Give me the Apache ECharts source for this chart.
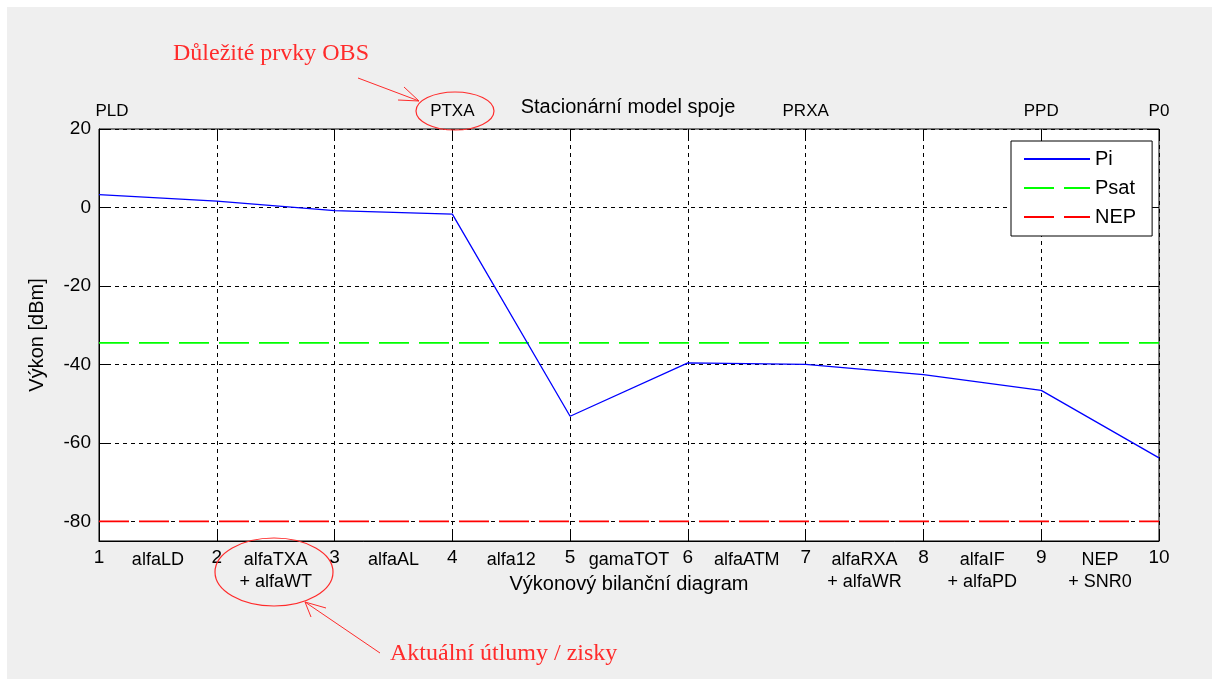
<!DOCTYPE html>
<html>
<head>
    <meta charset="utf-8">
    <title>Stacionární model spoje</title>
    <script src="https://cdn.jsdelivr.net/npm/echarts@6/dist/echarts.min.js"></script>
    <style>
        body { margin: 0; background: #ffffff; }
        #main { position: absolute; left: 7px; top: 7px; width: 1205px; height: 672px; }
    </style>
</head>
<body>
<div id="main"></div>
<script type="text/javascript">
    // data
    var xs = [1, 2, 3, 4, 5, 6, 7, 8, 9, 10];
    var piValues = [3.3, 1.6, -0.8, -1.7, -53.2, -39.6, -40.0, -42.6, -46.6, -63.8];
    var psatLevel = -34.5;
    var nepLevel = -80;
    var yTicks = [-80, -60, -40, -20, 0, 20];
    var stagePos = [1.5, 2.5, 3.5, 4.5, 5.5, 6.5, 7.5, 8.5, 9.5];
    var stageNames = ['alfaLD', 'alfaTXA\n+ alfaWT', 'alfaAL', 'alfa12', 'gamaTOT',
        'alfaATM', 'alfaRXA\n+ alfaWR', 'alfaIF\n+ alfaPD', 'NEP\n+ SNR0'];
    var pointPos = [1, 4, 7, 9, 10];
    var pointNames = ['PLD', 'PTXA', 'PRXA', 'PPD', 'P0'];

    var off = 7; // page offset of the chart div
    var font = 'Liberation Sans, Arial, sans-serif';
    var serif = 'Liberation Serif, Times New Roman, serif';
    var red = '#ff2b2b';
    var dash = [30, 10];

    var myChart = echarts.init(document.getElementById('main'));

    var tickIn = { show: true, inside: true, length: 9, lineStyle: { color: '#000' } };
    var dotted = { show: true, lineStyle: { color: '#000', type: [4, 4], width: 1 } };

    var option = {
        backgroundColor: '#efefef',
        animation: false,
        textStyle: { fontFamily: font },
        title: {
            text: 'Stacionární model spoje',
            left: 628 - off,
            top: 97 - off,
            textAlign: 'center',
            padding: 0,
            textStyle: { fontSize: 20, fontWeight: 'normal', color: '#000', fontFamily: font }
        },
        grid: {
            left: 99 - off, top: 129 - off, width: 1060, height: 412,
            show: true, backgroundColor: '#fff', borderColor: '#000', borderWidth: 1
        },
        legend: {
            data: [
                { name: 'Pi', itemStyle: { opacity: 0 } },
                { name: 'Psat', itemStyle: { opacity: 0 }, lineStyle: { type: dash } },
                { name: 'NEP', itemStyle: { opacity: 0 }, lineStyle: { type: dash } }
            ],
            orient: 'vertical',
            left: 1011 - off, top: 141 - off,
            itemWidth: 66, itemHeight: 14, itemGap: 9,
            padding: [8, 16, 9, 12],
            backgroundColor: '#fff', borderColor: '#000', borderWidth: 1,
            textStyle: { fontSize: 20, color: '#000', fontFamily: font }
        },
        xAxis: [{
            type: 'value', position: 'bottom', min: 1, max: 10, interval: 1,
            name: 'Výkonový bilanční diagram', nameLocation: 'middle', nameGap: 33,
            nameTextStyle: { fontSize: 20, color: '#000' },
            axisLine: { show: true, onZero: false, lineStyle: { color: '#000' } },
            axisTick: tickIn,
            splitLine: dotted,
            axisLabel: { fontSize: 19, color: '#000', margin: 7 }
        }, {
            type: 'value', position: 'bottom', min: 1, max: 10,
            axisLine: { show: false, onZero: false }, axisTick: { show: false }, splitLine: { show: false },
            axisLabel: {
                customValues: stagePos, fontSize: 18, lineHeight: 22, color: '#000', margin: 8,
                formatter: function (v) { return stageNames[stagePos.indexOf(v)]; }
            }
        }, {
            type: 'value', position: 'top', min: 1, max: 10, interval: 1,
            axisLine: { show: false, onZero: false }, axisTick: tickIn, splitLine: { show: false },
            axisLabel: {
                customValues: pointPos, fontSize: 17, color: '#000', margin: 9,
                formatter: function (v) {
                    var n = pointNames[pointPos.indexOf(v)];
                    return v === 1 ? '{pld|' + n + '}' : n;
                },
                rich: { pld: { fontSize: 17, color: '#000', padding: [0, 0, 0, 26] } }
            }
        }],
        yAxis: [{
            type: 'value', position: 'left', min: -85, max: 20,
            name: 'Výkon [dBm]', nameLocation: 'middle', nameGap: 52,
            nameTextStyle: { fontSize: 20, color: '#000' },
            axisLine: { show: true, onZero: false, lineStyle: { color: '#000' } },
            axisTick: { show: true, inside: true, length: 9, customValues: yTicks, lineStyle: { color: '#000' } },
            splitLine: dotted,
            axisLabel: { customValues: yTicks, fontSize: 19, color: '#000', margin: 8 }
        }, {
            type: 'value', position: 'right', min: -85, max: 20,
            axisLine: { show: false, onZero: false },
            axisTick: { show: true, inside: true, length: 9, customValues: yTicks, lineStyle: { color: '#000' } },
            splitLine: { show: false },
            axisLabel: { show: false }
        }],
        series: [{
            name: 'Pi', type: 'line', symbol: 'none', z: 4,
            data: xs.map(function (x, i) { return [x, piValues[i]]; }),
            lineStyle: { color: '#0000ff', width: 1.3 },
            itemStyle: { color: '#0000ff' }
        }, {
            name: 'Psat', type: 'line', symbol: 'none', z: 3,
            data: xs.map(function (x) { return [x, psatLevel]; }),
            lineStyle: { color: '#00ff00', width: 1.6, type: dash },
            itemStyle: { color: '#00ff00' }
        }, {
            name: 'NEP', type: 'line', symbol: 'none', z: 3,
            data: xs.map(function (x) { return [x, nepLevel]; }),
            lineStyle: { color: '#ff0000', width: 1.6, type: dash },
            itemStyle: { color: '#ff0000' }
        }],
        graphic: [{
            type: 'text', left: 173 - off, top: 42 - off,
            style: { text: 'Důležité prvky OBS', fill: red, font: '24px ' + serif }
        }, {
            type: 'line', shape: { x1: 358 - off, y1: 78 - off, x2: 419 - off, y2: 101 - off },
            style: { stroke: red, lineWidth: 1 }
        }, {
            type: 'polyline', shape: { points: [[404 - off, 87 - off], [419 - off, 101 - off], [398 - off, 100 - off]] },
            style: { stroke: red, lineWidth: 1, fill: null }
        }, {
            type: 'ellipse', shape: { cx: 455 - off, cy: 111 - off, rx: 39, ry: 19 },
            style: { stroke: red, lineWidth: 1.2, fill: null }, z: 10
        }, {
            type: 'ellipse', shape: { cx: 274 - off, cy: 572 - off, rx: 59, ry: 34 },
            style: { stroke: red, lineWidth: 1.2, fill: null }, z: 10
        }, {
            type: 'line', shape: { x1: 380 - off, y1: 653 - off, x2: 305 - off, y2: 602 - off },
            style: { stroke: red, lineWidth: 1 }
        }, {
            type: 'polyline', shape: { points: [[326 - off, 608 - off], [305 - off, 602 - off], [311 - off, 617 - off]] },
            style: { stroke: red, lineWidth: 1, fill: null }
        }, {
            type: 'text', left: 390 - off, top: 642 - off,
            style: { text: 'Aktuální útlumy / zisky', fill: red, font: '24px ' + serif }
        }]
    };
    myChart.setOption(option);
</script>
</body>
</html>
